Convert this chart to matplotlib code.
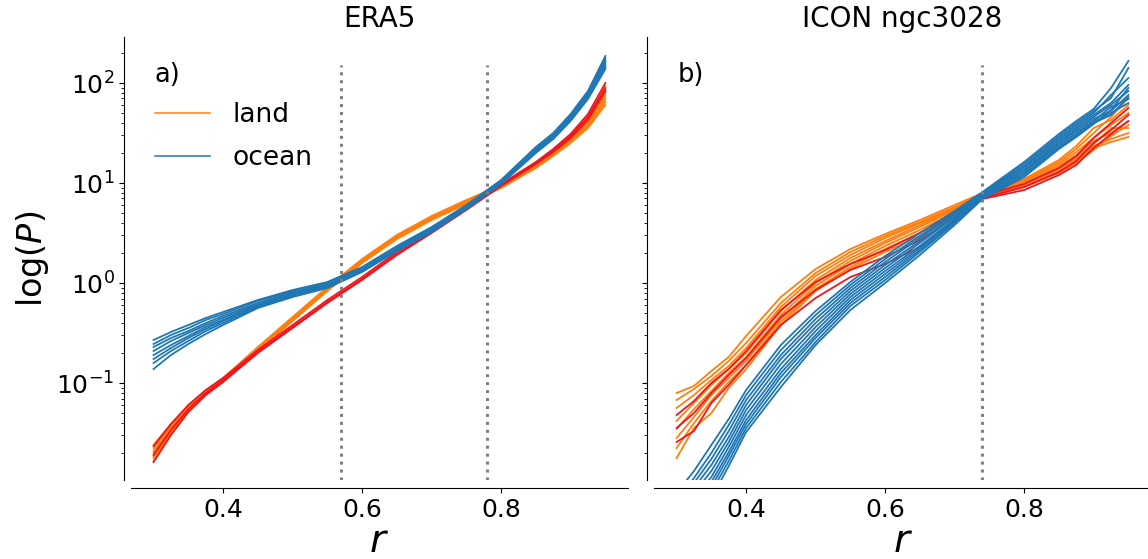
import numpy as np
import matplotlib
matplotlib.use("Agg")
import matplotlib.pyplot as plt
from matplotlib.lines import Line2D

# ---------------- data (log10 of P) ----------------
r_era5 = [0.30, 0.325, 0.35, 0.375, 0.40, 0.45, 0.50, 0.55, 0.60,
          0.65, 0.70, 0.75, 0.80, 0.85, 0.875, 0.90, 0.925, 0.95]

era5_ocean = [
    [-0.57, -0.49, -0.42, -0.35, -0.29, -0.17, -0.07, 0.01, 0.16, 0.37, 0.56, 0.78, 1.03, 1.36, 1.50, 1.69, 1.92, 2.27],
    [-0.61, -0.52, -0.45, -0.37, -0.31, -0.18, -0.08, 0.00, 0.15, 0.36, 0.55, 0.77, 1.02, 1.35, 1.49, 1.68, 1.91, 2.25],
    [-0.64, -0.55, -0.48, -0.40, -0.33, -0.20, -0.09, -0.01, 0.15, 0.35, 0.55, 0.77, 1.02, 1.34, 1.48, 1.67, 1.90, 2.23],
    [-0.68, -0.58, -0.50, -0.42, -0.35, -0.21, -0.10, -0.02, 0.14, 0.35, 0.54, 0.76, 1.01, 1.33, 1.47, 1.66, 1.89, 2.21],
    [-0.72, -0.62, -0.53, -0.44, -0.37, -0.22, -0.11, -0.03, 0.13, 0.34, 0.53, 0.76, 1.01, 1.33, 1.47, 1.65, 1.88, 2.20],
    [-0.76, -0.65, -0.55, -0.46, -0.38, -0.23, -0.12, -0.03, 0.13, 0.34, 0.53, 0.75, 1.00, 1.32, 1.46, 1.64, 1.86, 2.18],
    [-0.80, -0.68, -0.58, -0.48, -0.40, -0.24, -0.13, -0.04, 0.12, 0.33, 0.52, 0.75, 1.00, 1.31, 1.45, 1.63, 1.85, 2.16],
    [-0.86, -0.72, -0.61, -0.51, -0.42, -0.25, -0.14, -0.05, 0.11, 0.32, 0.51, 0.74, 0.99, 1.30, 1.44, 1.62, 1.84, 2.14],
]

era5_land = [
    [-1.62, -1.41, -1.23, -1.08, -0.95, -0.64, -0.34, -0.04, 0.24, 0.48, 0.67, 0.83, 0.98, 1.20, 1.33, 1.48, 1.66, 1.97],
    [-1.65, -1.43, -1.24, -1.09, -0.96, -0.65, -0.35, -0.05, 0.23, 0.47, 0.66, 0.82, 0.98, 1.19, 1.32, 1.46, 1.64, 1.93],
    [-1.68, -1.45, -1.25, -1.10, -0.97, -0.66, -0.36, -0.06, 0.22, 0.46, 0.65, 0.81, 0.97, 1.19, 1.31, 1.45, 1.62, 1.90],
    [-1.70, -1.46, -1.26, -1.10, -0.97, -0.66, -0.36, -0.06, 0.22, 0.46, 0.65, 0.81, 0.97, 1.18, 1.30, 1.44, 1.61, 1.87],
    [-1.73, -1.48, -1.27, -1.11, -0.98, -0.67, -0.37, -0.07, 0.21, 0.45, 0.64, 0.80, 0.96, 1.17, 1.29, 1.43, 1.59, 1.84],
    [-1.75, -1.49, -1.28, -1.12, -0.98, -0.67, -0.37, -0.07, 0.21, 0.45, 0.64, 0.80, 0.96, 1.16, 1.28, 1.42, 1.57, 1.81],
    [-1.78, -1.51, -1.29, -1.12, -0.99, -0.68, -0.38, -0.08, 0.20, 0.44, 0.63, 0.79, 0.95, 1.15, 1.27, 1.40, 1.55, 1.78],
]

era5_land_red = [
    [-1.63, -1.41, -1.22, -1.07, -0.95, -0.67, -0.42, -0.17, 0.06, 0.31, 0.52, 0.75, 0.99, 1.21, 1.34, 1.49, 1.69, 2.00],
    [-1.72, -1.47, -1.26, -1.10, -0.97, -0.69, -0.44, -0.19, 0.04, 0.29, 0.51, 0.74, 0.98, 1.20, 1.32, 1.47, 1.66, 1.95],
    [-1.79, -1.52, -1.29, -1.12, -0.99, -0.70, -0.45, -0.20, 0.03, 0.28, 0.50, 0.73, 0.97, 1.19, 1.31, 1.45, 1.63, 1.92],
]

r_icon = [0.30, 0.325, 0.35, 0.375, 0.40, 0.45, 0.50, 0.55, 0.60,
          0.65, 0.70, 0.74, 0.80, 0.85, 0.875, 0.90, 0.925, 0.95]

icon_ocean = [
    [-2.10, -1.88, -1.62, -1.36, -1.07, -0.62, -0.28, 0.01, 0.27, 0.50, 0.72, 0.91, 1.21, 1.49, 1.62, 1.74, 1.95, 2.22],
    [-2.18, -1.95, -1.70, -1.42, -1.12, -0.67, -0.32, -0.02, 0.24, 0.47, 0.70, 0.90, 1.19, 1.47, 1.60, 1.72, 1.85, 2.15],
    [-2.25, -2.00, -1.76, -1.48, -1.17, -0.72, -0.36, -0.05, 0.21, 0.45, 0.69, 0.89, 1.17, 1.45, 1.58, 1.70, 1.88, 2.05],
    [-2.30, -2.05, -1.82, -1.54, -1.22, -0.76, -0.40, -0.08, 0.18, 0.42, 0.67, 0.88, 1.16, 1.43, 1.56, 1.68, 1.80, 1.98],
    [-2.36, -2.10, -1.88, -1.59, -1.27, -0.81, -0.44, -0.11, 0.15, 0.40, 0.66, 0.88, 1.14, 1.41, 1.54, 1.66, 1.78, 1.92],
    [-2.42, -2.16, -1.94, -1.64, -1.32, -0.86, -0.48, -0.14, 0.12, 0.37, 0.64, 0.87, 1.12, 1.40, 1.52, 1.64, 1.72, 1.88],
    [-2.48, -2.22, -1.99, -1.69, -1.37, -0.90, -0.52, -0.17, 0.09, 0.35, 0.63, 0.86, 1.11, 1.38, 1.50, 1.62, 1.76, 1.84],
    [-2.52, -2.27, -2.04, -1.73, -1.41, -0.94, -0.55, -0.20, 0.06, 0.33, 0.61, 0.86, 1.09, 1.36, 1.48, 1.61, 1.70, 1.80],
    [-2.56, -2.32, -2.09, -1.78, -1.45, -0.99, -0.59, -0.23, 0.03, 0.31, 0.60, 0.85, 1.08, 1.35, 1.47, 1.60, 1.68, 1.86],
    [-2.62, -2.38, -2.15, -1.83, -1.49, -1.04, -0.62, -0.27, 0.00, 0.28, 0.58, 0.84, 1.06, 1.34, 1.46, 1.59, 1.73, 1.95],
]

icon_land = [
    [-1.10, -1.03, -0.88, -0.74, -0.53, -0.14, 0.14, 0.34, 0.49, 0.63, 0.78, 0.90, 1.04, 1.23, 1.37, 1.55, 1.63, 1.78],
    [-1.17, -1.06, -0.93, -0.78, -0.60, -0.20, 0.10, 0.31, 0.47, 0.61, 0.76, 0.89, 1.03, 1.21, 1.34, 1.50, 1.66, 1.85],
    [-1.25, -1.12, -0.97, -0.83, -0.65, -0.24, 0.07, 0.28, 0.45, 0.60, 0.75, 0.89, 1.02, 1.19, 1.31, 1.45, 1.58, 1.70],
    [-1.38, -1.20, -1.02, -0.86, -0.70, -0.28, 0.03, 0.25, 0.42, 0.58, 0.74, 0.88, 1.01, 1.17, 1.28, 1.42, 1.50, 1.62],
    [-1.46, -1.26, -1.08, -0.90, -0.74, -0.32, 0.00, 0.22, 0.40, 0.56, 0.73, 0.88, 1.00, 1.15, 1.26, 1.39, 1.55, 1.55],
    [-1.55, -1.34, -1.12, -0.95, -0.78, -0.36, -0.03, 0.19, 0.37, 0.53, 0.71, 0.87, 0.99, 1.14, 1.24, 1.37, 1.44, 1.50],
    [-1.65, -1.40, -1.18, -0.99, -0.82, -0.39, -0.06, 0.16, 0.34, 0.50, 0.69, 0.86, 0.97, 1.12, 1.22, 1.35, 1.41, 1.46],
    [-1.75, -1.45, -1.30, -1.05, -0.86, -0.42, -0.08, 0.14, 0.31, 0.47, 0.67, 0.85, 0.96, 1.10, 1.20, 1.33, 1.47, 1.58],
]

icon_land_red = [
    [-1.32, -1.18, -1.00, -0.86, -0.68, -0.27, 0.01, 0.19, 0.33, 0.50, 0.71, 0.87, 0.99, 1.15, 1.27, 1.45, 1.60, 1.75],
    [-1.45, -1.30, -1.10, -0.92, -0.75, -0.34, -0.07, 0.13, 0.26, 0.43, 0.66, 0.85, 0.96, 1.11, 1.22, 1.40, 1.53, 1.68],
    [-1.59, -1.48, -1.20, -1.02, -0.82, -0.42, -0.15, 0.06, 0.19, 0.36, 0.62, 0.84, 0.93, 1.08, 1.18, 1.35, 1.49, 1.62],
]

era5_thresholds = [0.57, 0.78]
icon_thresholds = [0.74]

panel_titles = ["ERA5", "ICON ngc3028"]
panel_tags = ["a)", "b)"]
xticks = [0.4, 0.6, 0.8]

# ---------------- style ----------------
C_LAND = "#ff7f0e"
C_RED = "#f0141e"
C_OCEAN = "#1f77b4"
LW = 1.3

fig = plt.figure(figsize=(11.48, 5.59), dpi=100)
ax_a = fig.add_axes([0.1141, 0.1413, 0.4329, 0.7925])
ax_b = fig.add_axes([0.5697, 0.1413, 0.4329, 0.7925], sharey=ax_a)

panels = [
    (ax_a, r_era5, era5_land, era5_land_red, era5_ocean, era5_thresholds),
    (ax_b, r_icon, icon_land, icon_land_red, icon_ocean, icon_thresholds),
]

ylo, yhi = 10 ** -1.97, 10 ** 2.46

for i, (ax, r, land, land_red, ocean, thr) in enumerate(panels):
    r = np.asarray(r)
    for c in land:
        ax.plot(r, 10 ** np.asarray(c), color=C_LAND, lw=LW)
    for c in land_red:
        ax.plot(r, 10 ** np.asarray(c), color=C_RED, lw=LW)
    for c in ocean:
        ax.plot(r, 10 ** np.asarray(c), color=C_OCEAN, lw=LW)
    ax.vlines(thr, ylo, 150, colors="#808080", linestyles=(0, (1, 1.6)), lw=2.2)

    ax.set_yscale("log")
    ax.set_xlim(0.2675, 0.9825)
    ax.set_ylim(ylo, yhi)
    ax.set_xticks(xticks)
    ax.set_title(panel_titles[i], fontsize=20, pad=7)
    ax.set_xlabel("$r$", fontsize=28, labelpad=0)
    ax.tick_params(labelsize=18)
    for s in ("top", "right"):
        ax.spines[s].set_visible(False)
    ax.spines["left"].set_position(("outward", 4.8))
    ax.spines["bottom"].set_position(("outward", 5.8))
    ax.text(0.048, 0.915, panel_tags[i], transform=ax.transAxes,
            fontsize=18.5, ha="left", va="center")

ax_a.set_ylabel("log($P$)", fontsize=24, labelpad=4)
plt.setp(ax_b.get_yticklabels(), visible=False)

handles = [Line2D([], [], color=C_LAND, lw=1.1),
           Line2D([], [], color=C_OCEAN, lw=1.1)]
ax_a.legend(handles, ["land", "ocean"], loc="upper left",
            bbox_to_anchor=(0.048, 0.853), frameon=False, fontsize=19,
            handlelength=2.1, handletextpad=0.83, labelspacing=0.65,
            borderaxespad=0, borderpad=0)

fig.savefig("out.png", dpi=100)
